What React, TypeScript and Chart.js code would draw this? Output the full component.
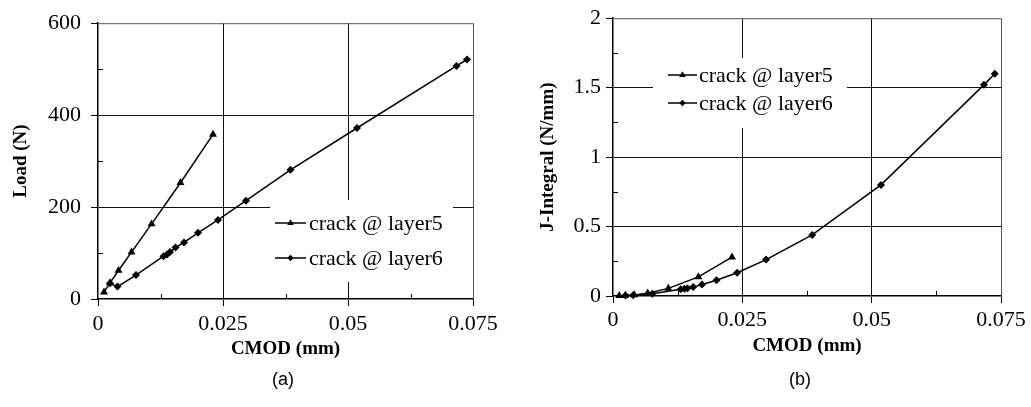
import React, { useEffect, useRef } from "react";
import { Chart, registerables } from "chart.js";
Chart.register(...registerables);

// ---- data ----
const cmod5 = [0.0012, 0.0024, 0.0041, 0.0067, 0.0107, 0.0165, 0.023];
const load5 = [15, 35, 62, 102, 163, 253, 358];
const jint5 = [0.002, 0.004, 0.008, 0.02, 0.055, 0.138, 0.28];

const cmod6 = [0.0024, 0.0039, 0.0076, 0.0131, 0.0138, 0.0144, 0.0155, 0.0172, 0.02, 0.024, 0.0296, 0.0385, 0.0518, 0.0717, 0.0738];
const load6 = [34, 27, 52, 93, 97, 102, 112, 123, 144, 172, 214, 281, 372, 507, 521];
const jint6 = [0.003, 0.005, 0.016, 0.048, 0.052, 0.056, 0.064, 0.083, 0.114, 0.167, 0.262, 0.44, 0.8, 1.52, 1.6];

const seriesLabels = ["crack @ layer5", "crack @ layer6"];
const seriesMarkers = ["triangle", "rectRot"];

const xTicks = [0, 0.025, 0.05, 0.075];
const xTickLabels = ["0", "0.025", "0.05", "0.075"];
const xMinor = [0.0125, 0.0375, 0.0625];

const loadTicks = [0, 200, 400, 600];
const loadTickLabels = ["0", "200", "400", "600"];
const loadMinor = [100, 300, 500];

const jTicks = [0, 0.5, 1, 1.5, 2];
const jTickLabels = ["0", "0.5", "1", "1.5", "2"];
const jMinor = [0.25, 0.75, 1.25, 1.75];

const SERIF = "'Liberation Serif', 'Times New Roman', serif";
const SANS = "'Liberation Sans', Arial, sans-serif";

function drawMarker(ctx: CanvasRenderingContext2D, kind: string, x: number, y: number, r: number) {
  ctx.beginPath();
  if (kind === "triangle") {
    let rad = 0;
    ctx.moveTo(x + Math.sin(rad) * r, y - Math.cos(rad) * r);
    rad += (2 * Math.PI) / 3;
    ctx.lineTo(x + Math.sin(rad) * r, y - Math.cos(rad) * r);
    rad += (2 * Math.PI) / 3;
    ctx.lineTo(x + Math.sin(rad) * r, y - Math.cos(rad) * r);
  } else {
    ctx.moveTo(x - r, y);
    ctx.lineTo(x, y - r);
    ctx.lineTo(x + r, y);
    ctx.lineTo(x, y + r);
  }
  ctx.closePath();
  ctx.fill();
}

const decorPlugin = {
  id: "decor",
  beforeDatasetsDraw(chart: any) {
    const o = chart.options.plugins.decor;
    const ctx: CanvasRenderingContext2D = chart.ctx;
    const { left, right, top, bottom } = chart.chartArea;
    const xs = chart.scales.x;
    const ys = chart.scales.y;
    ctx.save();
    // top and right frame
    ctx.strokeStyle = "#555";
    ctx.lineWidth = 1;
    ctx.beginPath();
    ctx.moveTo(left, top + 0.5);
    ctx.lineTo(right + 0.5, top + 0.5);
    ctx.lineTo(right + 0.5, bottom);
    ctx.stroke();
    // minor ticks (inward)
    ctx.strokeStyle = "#000";
    ctx.beginPath();
    for (const v of o.xMinor) {
      const px = Math.round(xs.getPixelForValue(v)) + 0.5;
      ctx.moveTo(px, bottom);
      ctx.lineTo(px, bottom - 5);
    }
    for (const v of o.yMinor) {
      const py = Math.round(ys.getPixelForValue(v)) + 0.5;
      ctx.moveTo(left, py);
      ctx.lineTo(left + 5, py);
    }
    ctx.stroke();
    // legend
    const L = o.legend;
    ctx.fillStyle = "#fff";
    ctx.fillRect(L.box[0], L.box[1], L.box[2] - L.box[0], L.box[3] - L.box[1]);
    chart.data.datasets.forEach((ds: any, i: number) => {
      const y = L.rows[i];
      ctx.strokeStyle = "#000";
      ctx.fillStyle = "#000";
      ctx.lineWidth = 1.5;
      ctx.beginPath();
      ctx.moveTo(L.lineX[0], y);
      ctx.lineTo(L.lineX[1], y);
      ctx.stroke();
      drawMarker(ctx, ds.pointStyle, (L.lineX[0] + L.lineX[1]) / 2, y, ds.pointStyle === "triangle" ? 3.8 : 3.2);
      ctx.font = `22px ${SERIF}`;
      ctx.textAlign = "left";
      ctx.textBaseline = "middle";
      ctx.fillText(ds.label, L.textX, y + 1);
    });
    ctx.restore();
  },
};

function makeConfig(p: any) {
  const datasets = p.series.map((s: any, i: number) => ({
    label: seriesLabels[i],
    data: s.x.map((v: number, k: number) => ({ x: v, y: s.y[k] })),
    showLine: true,
    borderColor: "#000",
    backgroundColor: "#000",
    borderWidth: 1.5,
    pointStyle: seriesMarkers[i],
    pointRadius: seriesMarkers[i] === "triangle" ? 4.6 : 4,
    pointBorderWidth: 0,
    pointBackgroundColor: "#000",
    tension: 0,
    clip: false,
  }));
  const gridColor = (ticksArr: number[]) => (c: any) => {
    const v = c.tick ? c.tick.value : null;
    if (v === ticksArr[0] || v === ticksArr[ticksArr.length - 1]) return "rgba(0,0,0,0)";
    return "#111";
  };
  return {
    type: "scatter",
    data: { datasets },
    options: {
      animation: false,
      responsive: false,
      devicePixelRatio: 1,
      layout: { padding: { left: 0, top: p.top, right: p.padRight, bottom: 0 } },
      plugins: {
        legend: { display: false },
        tooltip: { enabled: false },
        decor: { xMinor: xMinor, yMinor: p.yMinor, legend: p.legend },
      },
      scales: {
        x: {
          type: "linear",
          min: 0,
          max: 0.075,
          afterBuildTicks: (scale: any) => {
            scale.ticks = xTicks.map((v) => ({ value: v }));
          },
          afterFit: (scale: any) => {
            scale.height = p.xAxisHeight;
          },
          grid: { color: gridColor(xTicks), lineWidth: 1, tickColor: "#000", tickLength: 7, drawTicks: true },
          border: { display: true, color: "#000", width: 1.5 },
          ticks: {
            autoSkip: false,
            maxRotation: 0,
            color: "#000",
            padding: p.xTickPad,
            font: { family: SERIF, size: 22 },
            callback: (_v: any, i: number) => xTickLabels[i],
          },
          title: {
            display: true,
            text: "CMOD (mm)",
            color: "#000",
            font: { family: SERIF, size: 19, weight: "bold" },
            padding: { top: 0, bottom: p.xTitlePad },
          },
        },
        y: {
          type: "linear",
          min: p.yTicks[0],
          max: p.yTicks[p.yTicks.length - 1],
          afterBuildTicks: (scale: any) => {
            scale.ticks = p.yTicks.map((v: number) => ({ value: v }));
          },
          afterFit: (scale: any) => {
            scale.width = p.yAxisWidth;
          },
          grid: { color: gridColor(p.yTicks), lineWidth: 1, tickColor: "#000", tickLength: 7, drawTicks: true },
          border: { display: true, color: "#000", width: 1.5 },
          ticks: {
            autoSkip: false,
            color: "#000",
            padding: p.yTickPad,
            font: { family: SERIF, size: 22 },
            callback: (_v: any, i: number) => p.yTickLabels[i],
          },
          title: {
            display: true,
            text: p.yTitle,
            color: "#000",
            font: { family: SERIF, size: 19, weight: "bold" },
            padding: { top: p.yTitlePad, bottom: 0 },
          },
        },
      },
    },
    plugins: [decorPlugin],
  };
}

const leftParams = {
  series: [
    { x: cmod5, y: load5 },
    { x: cmod6, y: load6 },
  ],
  yTicks: loadTicks,
  yTickLabels: loadTickLabels,
  yMinor: loadMinor,
  yTitle: "Load (N)",
  top: 15,
  padRight: 42,
  xAxisHeight: 108,
  yAxisWidth: 98,
  xTickPad: 5,
  yTickPad: 10,
  xTitlePad: 47,
  yTitlePad: 10,
  legend: { box: [270, 200, 453, 282], rows: [223, 258], lineX: [275, 306], textX: 309 },
};

const rightParams = {
  series: [
    { x: cmod5, y: jint5 },
    { x: cmod6, y: jint6 },
  ],
  yTicks: jTicks,
  yTickLabels: jTickLabels,
  yMinor: jMinor,
  yTitle: "J-Integral (N/mm)",
  top: 15,
  padRight: 30,
  xAxisHeight: 111,
  yAxisWidth: 98,
  xTickPad: 4,
  yTickPad: 5,
  xTitlePad: 50,
  yTitlePad: 22,
  legend: { box: [138, 58, 332, 128], rows: [75, 103], lineX: [153, 182], textX: 184 },
};

function ChartCanvas(props: { params: any; left: number; width: number }) {
  const ref = useRef<HTMLCanvasElement | null>(null);
  useEffect(() => {
    if (!ref.current) return;
    const chart = new Chart(ref.current, makeConfig(props.params) as any);
    return () => chart.destroy();
  }, []);
  return (
    <canvas
      ref={ref}
      width={props.width}
      height={407}
      style={{ position: "absolute", left: props.left, top: 0, width: props.width, height: 407 }}
    />
  );
}

const captionStyle = (cx: number): React.CSSProperties => ({
  position: "absolute",
  left: cx - 30,
  width: 60,
  top: 369,
  textAlign: "center",
  fontFamily: SANS,
  fontSize: 18,
  lineHeight: "20px",
  color: "#000",
});

export default function App() {
  return (
    <div style={{ position: "fixed", left: 0, top: 0, width: 1031, height: 407, background: "#fff", overflow: "hidden" }}>
      <ChartCanvas params={leftParams} left={0} width={515} />
      <ChartCanvas params={rightParams} left={515} width={516} />
      <div style={captionStyle(283)}>(a)</div>
      <div style={captionStyle(800)}>(b)</div>
    </div>
  );
}
